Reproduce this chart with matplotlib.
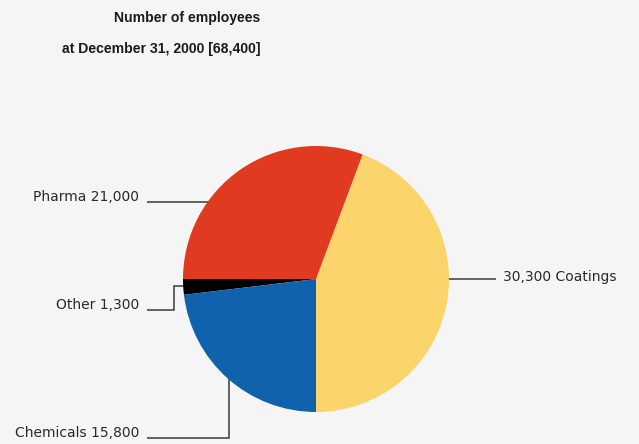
import matplotlib.pyplot as plt

W, H = 639, 444

segments = ["Coatings", "Pharma", "Other", "Chemicals"]
employees = [30300, 21000, 1300, 15800]
colors = ["#FBD46B", "#E03A20", "#000000", "#1062AC"]
total = 68400

labels = ["30,300 Coatings", "Pharma 21,000", "Other 1,300", "Chemicals 15,800"]

bg = "#F5F5F5"
fig = plt.figure(figsize=(W / 100, H / 100), dpi=100, facecolor=bg)
ax = fig.add_axes([0, 0, 1, 1])
ax.set_facecolor(bg)


def py(y):
    # pixel row (from top) to data y
    return H - y


# pie: starts at the bottom and runs counterclockwise
ax.pie(employees, colors=colors, startangle=-90, counterclock=True,
       center=(316, py(279)), radius=133, frame=True,
       wedgeprops=dict(linewidth=0, zorder=3))
ax.set_xlim(0, W)
ax.set_ylim(0, H)
ax.set_aspect("equal")
ax.axis("off")

# leader lines (drawn under the pie)
lc = "#3a3a3a"
leaders = [
    ([440, 496], [279, 279]),
    ([147, 215], [202, 202]),
    ([147, 174, 174, 195], [310, 310, 286, 286]),
    ([147, 229, 229], [438, 438, 370]),
]
for xs, ys in leaders:
    ax.plot(xs, [py(v) for v in ys], color=lc, lw=1.1, zorder=1,
            solid_capstyle="butt", solid_joinstyle="miter")

font = ["DejaVu Sans"]
tc = "#2a2a2a"
ax.text(503, py(281), labels[0], ha="left", va="baseline", fontsize=10,
        color=tc, family=font)
ax.text(139, py(201), labels[1], ha="right", va="baseline", fontsize=10,
        color=tc, family=font)
ax.text(139, py(309), labels[2], ha="right", va="baseline", fontsize=10,
        color=tc, family=font)
ax.text(139, py(437), labels[3], ha="right", va="baseline", fontsize=10,
        color=tc, family=font)

tfont = ["Liberation Sans", "DejaVu Sans"]
ax.text(260, py(22), "Number of employees", ha="right", va="baseline",
        fontsize=10.1, fontweight="bold", color="#1a1a1a", family=tfont)
ax.text(260, py(53), f"at December 31, 2000 [{total:,}]", ha="right",
        va="baseline", fontsize=10.1, fontweight="bold", color="#1a1a1a",
        family=tfont)

fig.savefig("out.png", dpi=100, facecolor=bg)
